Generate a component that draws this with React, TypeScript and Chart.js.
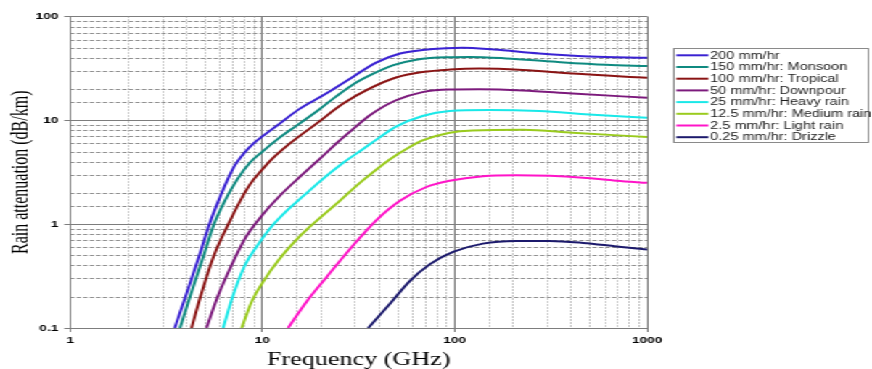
import React, { useEffect, useRef } from "react";
import { Chart, registerables } from "chart.js";

Chart.register(...registerables);

// ---------- data ----------
const seriesLabels = [
  "200 mm/hr",
  "150 mm/hr: Monsoon",
  "100 mm/hr: Tropical",
  "50 mm/hr: Downpour",
  "25 mm/hr: Heavy rain",
  "12.5 mm/hr: Medium rain",
  "2.5 mm/hr: Light rain",
  "0.25 mm/hr: Drizzle",
];
const seriesColors = [
  "#3a22d2",
  "#0f8a80",
  "#8a1414",
  "#7c1a7c",
  "#1ae8e8",
  "#9acb1e",
  "#ff14c8",
  "#1c1a6c",
];

const freq200 = [3.5, 3.98, 4.7, 5.3, 6.0, 6.6, 7.2, 8.0, 9.0, 10.2, 12, 15.6, 20.7, 28.4, 39, 52, 68, 90, 110, 160, 275, 500, 1000];
const att200 = [0.1, 0.2, 0.5, 1.0, 1.8, 2.7, 3.7, 4.8, 6.0, 7.2, 9.0, 12.9, 17.4, 25, 36, 44, 47.5, 49.5, 50, 48, 44, 41.2, 40];

const freq150 = [3.73, 4.2, 4.95, 5.6, 6.4, 7.4, 8.6, 10, 12, 15.2, 19.5, 24, 30, 37.5, 48, 63, 90, 120, 185, 335, 610, 1000];
const att150 = [0.1, 0.2, 0.5, 1.0, 1.7, 2.7, 3.9, 5.0, 6.6, 9.0, 12.5, 16.8, 22.5, 28, 34, 38.4, 40.6, 40.8, 39.5, 36.6, 34.3, 33.3];

const freq100 = [4.28, 4.76, 5.6, 6.65, 7.7, 8.6, 9.9, 11.3, 13.9, 19.1, 26.3, 36, 50, 68, 94, 134, 226, 410, 1000];
const att100 = [0.1, 0.2, 0.5, 1.0, 1.7, 2.4, 3.3, 4.3, 6.0, 9.3, 14.5, 20.2, 26, 29.2, 30.8, 31.5, 30.5, 28.2, 25.7];

const freq50 = [5.12, 5.85, 6.9, 8.2, 9.9, 12.4, 15.8, 20, 25, 30, 36.2, 49.5, 68, 94, 134, 226, 410, 1000];
const att50 = [0.1, 0.2, 0.4, 0.75, 1.2, 1.9, 2.9, 4.3, 6.3, 8.4, 11.2, 15.6, 18.7, 19.8, 19.9, 19.4, 18.1, 16.5];

const freq25 = [6.25, 7.0, 8.1, 9.4, 11, 13.4, 16.5, 20, 26.3, 33.4, 40, 49.5, 68, 94, 151, 275, 499, 1000];
const att25 = [0.1, 0.2, 0.4, 0.62, 0.92, 1.35, 1.9, 2.6, 3.9, 5.3, 6.7, 8.7, 11.0, 12.3, 12.6, 12.3, 11.4, 10.6];

const freq12 = [7.8, 8.8, 10.1, 12.0, 14.5, 17.6, 24.3, 33.4, 45.9, 56, 68, 94, 124, 226, 410, 1000];
const att12 = [0.1, 0.18, 0.28, 0.44, 0.66, 0.94, 1.58, 2.65, 4.2, 5.3, 6.4, 7.6, 8.0, 8.1, 7.6, 6.9];

const freq2p5 = [13.6, 17, 21.6, 28.4, 39.3, 51.9, 71.2, 94, 140, 208, 311, 465, 694, 1000];
const att2p5 = [0.1, 0.18, 0.31, 0.57, 1.1, 1.68, 2.28, 2.62, 2.9, 2.96, 2.92, 2.8, 2.62, 2.5];

const freq0p25 = [35.5, 45.9, 58, 74, 98, 140, 208, 311, 465, 694, 1000];
const att0p25 = [0.1, 0.17, 0.28, 0.41, 0.54, 0.65, 0.69, 0.69, 0.66, 0.61, 0.57];

const seriesFreqs = [freq200, freq150, freq100, freq50, freq25, freq12, freq2p5, freq0p25];
const seriesAtts = [att200, att150, att100, att50, att25, att12, att2p5, att0p25];

const xMin = 1;
const xMax = 1000;
const yMin = 0.1;
const yMax = 100;

// ---------- layout ----------
const CW = 601; // internal canvas width (the reference image is horizontally stretched)
const CH = 369;
const STRETCH = 872 / CW;

const isMajor = (v: number) => {
  if (v == null || v <= 0) return false;
  const l = Math.log10(v);
  return Math.abs(l - Math.round(l)) < 1e-6;
};

const MAJOR = "#7d7d7d";
const MINOR = "#8f8f8f";

const minorGrid = {
  id: "minorGrid",
  beforeDatasetsDraw(chart: any) {
    const { ctx, chartArea: a, scales } = chart;
    const x = scales.x;
    const y = scales.y;
    ctx.save();
    ctx.strokeStyle = MINOR;
    ctx.lineWidth = 1;
    ctx.setLineDash([1, 2]);
    x.ticks.forEach((t: any) => {
      if (isMajor(t.value)) return;
      const px = Math.round(x.getPixelForValue(t.value)) + 0.5;
      ctx.beginPath();
      ctx.moveTo(px, a.top);
      ctx.lineTo(px, a.bottom);
      ctx.stroke();
    });
    ctx.setLineDash([3, 1.5]);
    y.ticks.forEach((t: any) => {
      if (isMajor(t.value)) return;
      const py = Math.round(y.getPixelForValue(t.value)) + 0.5;
      ctx.beginPath();
      ctx.moveTo(a.left, py);
      ctx.lineTo(a.right, py);
      ctx.stroke();
    });
    ctx.restore();
  },
};

const legendBox = {
  id: "legendBox",
  afterDraw(chart: any) {
    const { ctx } = chart;
    const left = 464.5;
    const top = 48.5;
    const right = 598.5;
    const bottom = 142.5;
    const rowTop = 55.3;
    const rowStep = 11.7;
    ctx.save();
    ctx.setLineDash([]);
    ctx.strokeStyle = "#8a8a8a";
    ctx.lineWidth = 1;
    ctx.strokeRect(left, top, right - left, bottom - top);
    chart.data.datasets.forEach((ds: any, i: number) => {
      const cy = rowTop + i * rowStep;
      ctx.strokeStyle = ds.borderColor;
      ctx.lineWidth = 2;
      ctx.beginPath();
      ctx.moveTo(466.2, cy);
      ctx.lineTo(488.3, cy);
      ctx.stroke();
      ctx.fillStyle = "#1a1a1a";
      ctx.font = '10px "Liberation Sans", Arial, sans-serif';
      ctx.textBaseline = "middle";
      ctx.textAlign = "left";
      ctx.fillText(ds.label, 489.5, cy + 0.5);
    });
    ctx.restore();
  },
};

export default function App() {
  const ref = useRef<HTMLCanvasElement | null>(null);

  useEffect(() => {
    if (!ref.current) return;
    const datasets = seriesLabels.map((label, i) => ({
      label,
      data: seriesFreqs[i].map((f, j) => ({ x: f, y: seriesAtts[i][j] })),
      borderColor: seriesColors[i],
      backgroundColor: seriesColors[i],
      borderWidth: 2,
      pointRadius: 0,
      fill: false,
      cubicInterpolationMode: "monotone" as const,
    }));

    const tickFont = { family: '"Liberation Sans", Arial, sans-serif', weight: "bold" as const, size: 9.5 };

    const chart = new Chart(ref.current, {
      type: "line",
      data: { datasets },
      options: {
        animation: false,
        responsive: false,
        devicePixelRatio: 1,
        layout: { padding: { left: 0, right: CW - 446.0, top: 16.5, bottom: 0 } },
        plugins: {
          legend: { display: false },
          tooltip: { enabled: false },
        },
        scales: {
          x: {
            type: "logarithmic",
            min: xMin,
            max: xMax,
            afterFit: (s: any) => {
              s.height = 41;
            },
            grid: {
              color: (c: any) => (c.tick && isMajor(c.tick.value) ? MAJOR : "rgba(0,0,0,0)"),
              lineWidth: 1,
              drawTicks: true,
              tickLength: 4,
            },
            border: { color: MAJOR, width: 1 },
            ticks: {
              autoSkip: false,
              maxRotation: 0,
              minRotation: 0,
              padding: 3,
              color: "#000",
              font: tickFont,
              callback: (v: any) => (isMajor(Number(v)) ? String(Number(v)) : ""),
            },
            title: {
              display: true,
              text: "Frequency (GHz)",
              color: "#000",
              font: { family: '"Liberation Serif", "Times New Roman", serif', size: 18, lineHeight: 1 },
              padding: { top: 0, bottom: 0 },
            },
          },
          y: {
            type: "logarithmic",
            min: yMin,
            max: yMax,
            afterFit: (s: any) => {
              s.width = 48.3;
            },
            grid: {
              color: (c: any) => (c.tick && isMajor(c.tick.value) ? MAJOR : "rgba(0,0,0,0)"),
              lineWidth: 1,
              drawTicks: true,
              tickLength: 4,
            },
            border: { color: MAJOR, width: 1 },
            ticks: {
              autoSkip: false,
              padding: 4,
              color: "#000",
              font: tickFont,
              callback: (v: any) => (isMajor(Number(v)) ? String(Number(v)) : ""),
            },
            title: {
              display: true,
              text: "Rain attenuation (dB/km)",
              color: "#000",
              font: { family: '"Liberation Serif", "Times New Roman", serif', size: 16, lineHeight: 1 },
              padding: { top: 7, bottom: 0 },
            },
          },
        },
      },
      plugins: [minorGrid, legendBox],
    } as any);

    return () => chart.destroy();
  }, []);

  return (
    <div
      style={{
        position: "absolute",
        left: 0,
        top: 0,
        width: CW,
        height: CH,
        background: "#fff",
        transform: `scaleX(${STRETCH})`,
        transformOrigin: "0 0",
      }}
    >
      <canvas ref={ref} width={CW} height={CH} style={{ display: "block", width: CW, height: CH }} />
    </div>
  );
}
